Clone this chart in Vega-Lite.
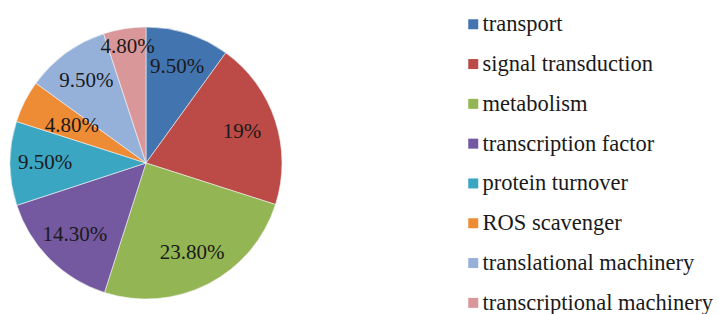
{
  "$schema": "https://vega.github.io/schema/vega-lite/v6.json",
  "width": 272,
  "height": 272,
  "padding": {"top": 27, "left": 10, "right": 436, "bottom": 15},
  "autosize": {"type": "none"},
  "background": "white",
  "config": {
    "legend": {"labelFont": "Times New Roman, Liberation Serif, serif"},
    "text": {"font": "Times New Roman, Liberation Serif, serif"}
  },
  "data": {
    "values": [
      {"idx": 1, "category": "transport", "value": 9.5, "label": "9.50%"},
      {"idx": 2, "category": "signal transduction", "value": 19, "label": "19%"},
      {"idx": 3, "category": "metabolism", "value": 23.8, "label": "23.80%"},
      {"idx": 4, "category": "transcription factor", "value": 14.3, "label": "14.30%"},
      {"idx": 5, "category": "protein turnover", "value": 9.5, "label": "9.50%"},
      {"idx": 6, "category": "ROS scavenger", "value": 4.8, "label": "4.80%"},
      {"idx": 7, "category": "translational machinery", "value": 9.5, "label": "9.50%"},
      {"idx": 8, "category": "transcriptional machinery", "value": 4.8, "label": "4.80%"}
    ]
  },
  "encoding": {
    "theta": {"field": "value", "type": "quantitative", "stack": true},
    "order": {"field": "idx", "type": "quantitative"}
  },
  "layer": [
    {
      "mark": {"type": "arc", "outerRadius": 136, "stroke": "#f4f4f4", "strokeWidth": 0.6},
      "encoding": {
        "color": {
          "field": "category",
          "type": "nominal",
          "scale": {
            "domain": ["transport", "signal transduction", "metabolism", "transcription factor", "protein turnover", "ROS scavenger", "translational machinery", "transcriptional machinery"],
            "range": ["#4274B0", "#BC4A47", "#93B553", "#7459A0", "#3AA6C2", "#EE8B35", "#95B1DA", "#DA9799"]
          },
          "legend": {
            "title": null,
            "orient": "none",
            "legendX": 452,
            "legendY": -14,
            "symbolType": "square",
            "symbolSize": 100,
            "symbolStrokeWidth": 0,
            "labelFont": "Times New Roman, Liberation Serif, serif",
            "labelFontSize": 22.5,
            "labelColor": "#1a1a1a",
            "labelOffset": -2,
            "rowPadding": 16.8,
            "labelLimit": 400
          }
        }
      }
    },
    {
      "mark": {"type": "text", "radius": 101, "font": "Times New Roman, Liberation Serif, serif", "fontSize": 21, "color": "#1a1a1a", "align": "center", "baseline": "middle"},
      "encoding": {
        "text": {"condition": {"test": "datum.category !== 'transcriptional machinery' && datum.category !== 'ROS scavenger'", "field": "label"}, "value": ""}
      }
    },
    {
      "mark": {"type": "text", "radius": 117, "font": "Times New Roman, Liberation Serif, serif", "fontSize": 21, "color": "#1a1a1a", "align": "center", "baseline": "middle"},
      "encoding": {
        "text": {"condition": {"test": "datum.category === 'transcriptional machinery'", "field": "label"}, "value": ""}
      }
    },
    {
      "mark": {"type": "text", "radius": 83, "font": "Times New Roman, Liberation Serif, serif", "fontSize": 21, "color": "#1a1a1a", "align": "center", "baseline": "middle"},
      "encoding": {
        "text": {"condition": {"test": "datum.category === 'ROS scavenger'", "field": "label"}, "value": ""}
      }
    }
  ]
}
